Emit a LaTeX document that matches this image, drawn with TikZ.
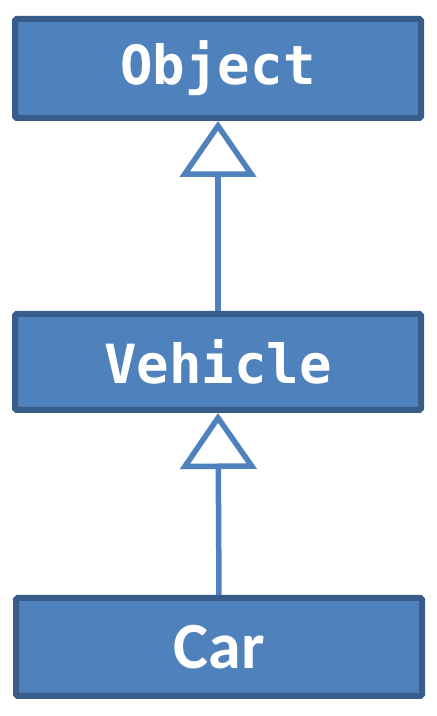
\documentclass[tikz,border=0pt]{standalone}
\usepackage{fontspec}
\newfontfamily\monofont{DejaVu Sans Mono}
\newfontfamily\carfont{Carlito}
\usetikzlibrary{arrows.meta}
\definecolor{boxfill}{HTML}{4F81BD}
\definecolor{boxline}{HTML}{385D8A}
\begin{document}
\begin{tikzpicture}[x=1pt,y=1pt,
  classbox/.style={draw=boxline, fill=boxfill, line width=6pt, rounded corners=1.5pt,
    minimum width=406pt, text=white, inner sep=0pt},
  inherit/.style={draw=boxfill, line width=5.5pt, line join=round,
    -{Triangle[open, length=56pt, width=76pt, fill=white]}}]
\useasboundingbox (0,0) rectangle (437,716);
\node[classbox, minimum height=99pt, font=\monofont\bfseries\fontsize{54}{60}\selectfont] (obj) at (218,647.5) {Object};
\node[classbox, minimum height=96pt, font=\monofont\bfseries\fontsize{54}{60}\selectfont] (veh) at (218,354) {Vehicle};
\node[classbox, minimum height=98pt, font=\carfont\bfseries\fontsize{66}{72}\selectfont] (car) at (219,69) {Car};
\draw[inherit] (veh.north) -- (obj.south);
\draw[inherit] (car.north) -- (veh.south);
\end{tikzpicture}
\end{document}
